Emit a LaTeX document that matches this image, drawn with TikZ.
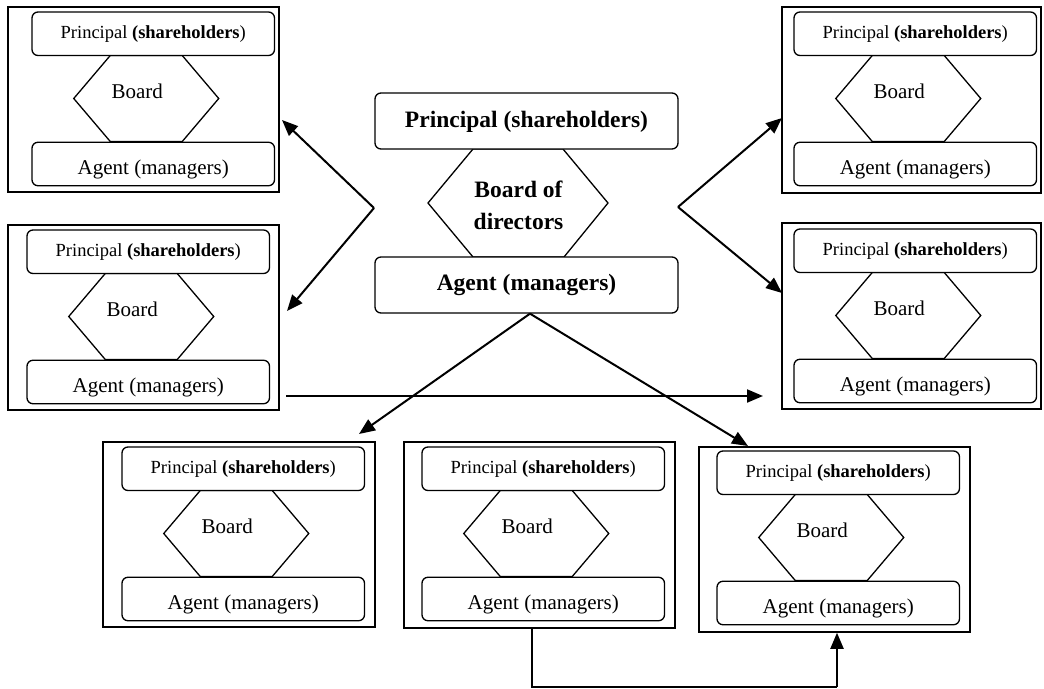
\documentclass[tikz,border=0pt]{standalone}
\usepackage{fontspec}
\setmainfont{Liberation Serif}
\usetikzlibrary{arrows.meta,calc}

\tikzset{
  frame/.style={draw, line width=1.5pt, rectangle, inner sep=0pt},
  pbox/.style={draw, line width=1.3pt, rounded corners=6pt, fill=white,
    minimum width=242.5pt, minimum height=43.5pt, inner sep=0pt},
  hexline/.style={draw, line width=1.3pt, line join=miter},
  ptext/.style={inner sep=0pt, font=\fontsize{18.5}{22}\selectfont},
  btext/.style={inner sep=0pt, font=\fontsize{21}{25}\selectfont},
  bigtext/.style={inner sep=0pt, align=center, font=\fontsize{23.5}{32}\selectfont\bfseries},
  link/.style={line width=2pt, -{Triangle[length=16pt,width=13pt]}},
  thinlink/.style={line width=1.1pt}
}

% One governance unit: frame, principal box, board hexagon, agent box.
% #1 name, (#2,#3) frame top-left, (#4,#5) frame bottom-right,
% #6 left edge of the inner boxes, #7 top of the principal box
\newcommand\govunit[7]{%
  \pgfmathsetmacro\gvFx{(#2+#4)/2}\pgfmathsetmacro\gvFy{(#3+#5)/2}%
  \pgfmathsetmacro\gvFw{#4-#2}\pgfmathsetmacro\gvFh{#5-#3}%
  \node[frame, minimum width=\gvFw pt, minimum height=\gvFh pt] (#1) at (\gvFx,\gvFy) {};
  \pgfmathsetmacro\gvCx{#6+121.25}%
  \pgfmathsetmacro\gvHx{\gvCx-7}%
  \pgfmathsetmacro\gvHt{#7+43.5}\pgfmathsetmacro\gvHm{#7+86.5}\pgfmathsetmacro\gvHb{#7+129.5}%
  \draw[hexline] (\gvHx-72.5,\gvHm) -- (\gvHx-36,\gvHt) -- (\gvHx+36,\gvHt)
    -- (\gvHx+72.5,\gvHm) -- (\gvHx+36,\gvHb) -- (\gvHx-36,\gvHb) -- cycle;
  \node[pbox] (#1-p) at (\gvCx,#7+21.75) {};
  \node[pbox] (#1-a) at (\gvCx,#7+152) {};
  \node[ptext] (#1-pt) at (\gvCx,#7+22) {Principal \textbf{(shareholders})};
  \node[btext] (#1-b) at (\gvCx-16,#7+79) {Board};
  \node[btext] (#1-at) at (\gvCx,#7+157.5) {Agent (managers)};
}

\begin{document}
\begin{tikzpicture}[x=1pt,y=-1pt]
\useasboundingbox (0,0) rectangle (1044,688);

% surrounding units
\govunit{tl}{8}{7}{279}{192}{32}{12}
\govunit{lm}{8}{225}{279}{410}{27}{230}
\govunit{tr}{782}{7}{1041}{193}{794}{12}
\govunit{rm}{782}{223}{1041}{409}{794}{229}
\govunit{bl}{103}{442}{375}{627}{122}{447}
\govunit{bm}{404}{442}{675}{628}{422}{447}
\govunit{br}{699}{447}{970}{632}{717}{451}

% central unit
\draw[hexline] (428,203) -- (473,149) -- (563,149) -- (608,203) -- (564,257) -- (473,257) -- cycle;
\node[pbox, minimum width=303pt, minimum height=56pt] (cp) at (526.5,121) {};
\node[pbox, minimum width=303pt, minimum height=56pt] (ca) at (526.5,285) {};
\node[bigtext] (cpt) at (526.5,122) {Principal (shareholders)};
\node[bigtext] (cb) at (518.5,205) {Board of\\directors};
\node[bigtext] (cat) at (526.5,285) {Agent (managers)};

% fork points and arrow ends
\coordinate (lfork) at (374,208);
\coordinate (rfork) at (678,207);
\coordinate (tlend) at (282,120);
\coordinate (lmend) at (287,311);
\coordinate (trend) at (782,118);
\coordinate (rmend) at (782,293);
\coordinate (blend) at (359,434);
\coordinate (brend) at (748,446);
\coordinate (hstart) at (286,396);
\coordinate (hend) at (763,396);
\coordinate (elbowl) at (532,687);
\coordinate (elbowr) at (837,687);

\draw[link] (lfork) -- (tlend);
\draw[link] (lfork) -- (lmend);
\draw[link] (rfork) -- (trend);
\draw[link] (rfork) -- (rmend);
\draw[link] ($(ca.south)+(3.5,0)$) -- (blend);
\draw[link] ($(ca.south)+(3.5,0)$) -- (brend);
\draw[link] (hstart) -- (hend);

% feedback loop under the bottom row
\draw[thinlink] (bm.south -| elbowl) -- (elbowl) -- (elbowr);
\draw[link] (elbowr) -- (br.south -| elbowr);
\end{tikzpicture}
\end{document}
